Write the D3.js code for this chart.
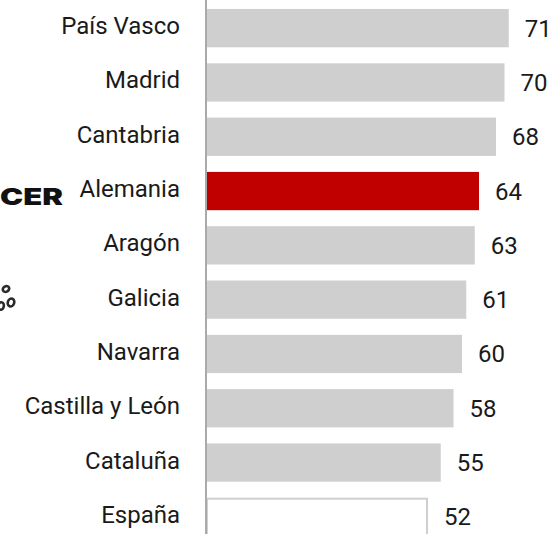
<!DOCTYPE html>
<html>
<head>
<meta charset="utf-8">
<script src="https://cdn.jsdelivr.net/npm/d3@7"></script>
<style>
  html, body { margin: 0; padding: 0; background: #fff; }
  svg { display: block; }
</style>
</head>
<body>
<svg id="chart" width="551" height="534"></svg>
<script>
// Regions ranked by score
const regions = ["País Vasco", "Madrid", "Cantabria", "Alemania", "Aragón", "Galicia", "Navarra", "Castilla y León", "Cataluña", "España"];
const scores  = [71, 70, 68, 64, 63, 61, 60, 58, 55, 52];
const highlight = "Alemania";
const reference = "España";

const W = 551, H = 534;
const svg = d3.select("#chart");

const y = d3.scaleBand()
  .domain(regions)
  .range([1, 544])
  .paddingInner(0.295)
  .paddingOuter(0.1475);

const x = d3.scaleLinear()
  .domain([0, 100])
  .range([207, 632]);

const rows = regions.map((r, i) => ({ region: r, value: scores[i] }));

// Partial brand mark peeking in from the left edge
svg.append("text")
  .attr("transform", "translate(63,204.5) scale(1.35,1)")
  .attr("text-anchor", "end")
  .attr("font-family", "Inter, 'DejaVu Sans', sans-serif")
  .attr("font-weight", 900)
  .attr("font-size", 23)
  .attr("fill", "#111")
  .text("CER");

const seeds = svg.append("g")
  .attr("fill", "none")
  .attr("stroke", "#2a2a2a")
  .attr("stroke-width", 2.6);
[[6, 289, 3.4, 2.6, -30], [11, 302.5, 3.2, 4, 20], [1, 306, 2.8, 3.8, 10]].forEach(([cx, cy, rx, ry, rot]) => {
  seeds.append("ellipse")
    .attr("cx", cx).attr("cy", cy).attr("rx", rx).attr("ry", ry)
    .attr("transform", `rotate(${rot},${cx},${cy})`);
});

// Bars
svg.append("g").selectAll("rect")
  .data(rows)
  .join("rect")
  .attr("x", x(0))
  .attr("y", d => y(d.region) + (d.region === reference ? 1 : 0))
  .attr("width", d => x(d.value) - x(0) - (d.region === reference ? 1 : 0))
  .attr("height", d => y.bandwidth() + (d.region === reference ? 10 : 0))
  .attr("fill", d => d.region === highlight ? "#c00000" : d.region === reference ? "#fff" : "#cfcfcf")
  .attr("stroke", d => d.region === reference ? "#cfcfcf" : "none")
  .attr("stroke-width", 2);

// Vertical baseline
svg.append("line")
  .attr("x1", 206).attr("x2", 206)
  .attr("y1", 0).attr("y2", H)
  .attr("stroke", "#aaaaaa")
  .attr("stroke-width", 2);

// Category labels
svg.append("g").selectAll("text")
  .data(rows)
  .join("text")
  .attr("x", 180)
  .attr("y", d => y(d.region) + y.bandwidth() / 2 + 6)
  .attr("text-anchor", "end")
  .attr("font-family", "Roboto, sans-serif")
  .attr("font-size", 24)
  .attr("fill", "#1a1a1a")
  .text(d => d.region);

// Value labels
svg.append("g").selectAll("text")
  .data(rows)
  .join("text")
  .attr("x", d => x(d.value) + 16)
  .attr("y", d => y(d.region) + y.bandwidth() / 2 + 8.5)
  .attr("font-family", "Roboto, sans-serif")
  .attr("font-size", 24)
  .attr("fill", "#1a1a1a")
  .text(d => d.value);
</script>
</body>
</html>
